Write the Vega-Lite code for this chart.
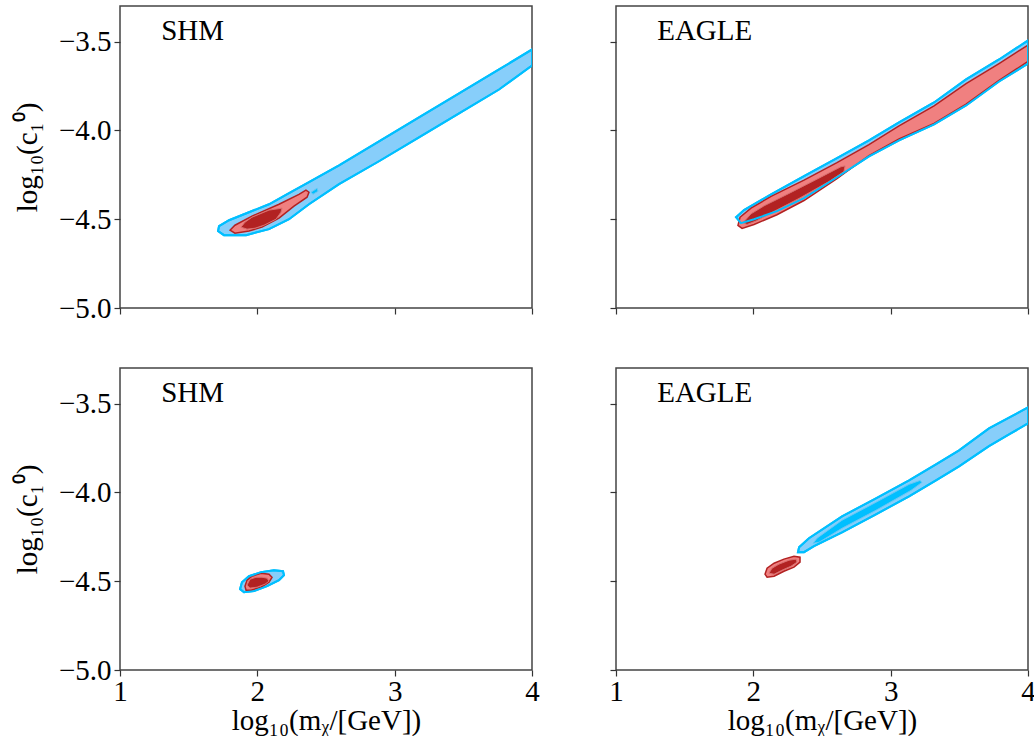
{
"$schema":"https://vega.github.io/schema/vega-lite/v6.json",
"autosize":{"type":"pad"},
"padding":{"left":12,"top":5,"right":5,"bottom":0},
"background":"white",
"datasets":{
"polys":[
{"p":"TL","l":"txt","o":0,"label":"SHM"},{"p":"TR","l":"txt","o":0,"label":"EAGLE"},{"p":"BL","l":"txt","o":0,"label":"SHM"},{"p":"BR","l":"txt","o":0,"label":"EAGLE"},
{"p":"TL","l":"b2","o":0,"x":1.721,"y":-4.539},{"p":"TL","l":"b2","o":1,"x":1.794,"y":-4.506},{"p":"TL","l":"b2","o":2,"x":1.939,"y":-4.461},{"p":"TL","l":"b2","o":3,"x":2.085,"y":-4.416},{"p":"TL","l":"b2","o":4,"x":2.231,"y":-4.354},{"p":"TL","l":"b2","o":5,"x":2.376,"y":-4.292},{"p":"TL","l":"b2","o":6,"x":2.595,"y":-4.197},{"p":"TL","l":"b2","o":7,"x":2.886,"y":-4.062},{"p":"TL","l":"b2","o":8,"x":3.177,"y":-3.927},{"p":"TL","l":"b2","o":9,"x":3.469,"y":-3.792},{"p":"TL","l":"b2","o":10,"x":3.76,"y":-3.657},{"p":"TL","l":"b2","o":11,"x":4.0,"y":-3.545},{"p":"TL","l":"b2","o":12,"x":4.0,"y":-3.635},{"p":"TL","l":"b2","o":13,"x":3.76,"y":-3.77},{"p":"TL","l":"b2","o":14,"x":3.469,"y":-3.904},{"p":"TL","l":"b2","o":15,"x":3.177,"y":-4.039},{"p":"TL","l":"b2","o":16,"x":2.886,"y":-4.174},{"p":"TL","l":"b2","o":17,"x":2.595,"y":-4.303},{"p":"TL","l":"b2","o":18,"x":2.376,"y":-4.416},{"p":"TL","l":"b2","o":19,"x":2.231,"y":-4.5},{"p":"TL","l":"b2","o":20,"x":2.085,"y":-4.556},{"p":"TL","l":"b2","o":21,"x":1.918,"y":-4.59},{"p":"TL","l":"b2","o":22,"x":1.757,"y":-4.59},{"p":"TL","l":"b2","o":23,"x":1.714,"y":-4.567},
{"p":"TL","l":"b1","o":0,"x":2.391,"y":-4.348},{"p":"TL","l":"b1","o":1,"x":2.435,"y":-4.326},{"p":"TL","l":"b1","o":2,"x":2.442,"y":-4.343},{"p":"TL","l":"b1","o":3,"x":2.405,"y":-4.36},
{"p":"TL","l":"r2","o":0,"x":1.801,"y":-4.562},{"p":"TL","l":"r2","o":1,"x":1.837,"y":-4.534},{"p":"TL","l":"r2","o":2,"x":1.961,"y":-4.483},{"p":"TL","l":"r2","o":3,"x":2.158,"y":-4.416},{"p":"TL","l":"r2","o":4,"x":2.303,"y":-4.36},{"p":"TL","l":"r2","o":5,"x":2.354,"y":-4.337},{"p":"TL","l":"r2","o":6,"x":2.376,"y":-4.348},{"p":"TL","l":"r2","o":7,"x":2.362,"y":-4.376},{"p":"TL","l":"r2","o":8,"x":2.267,"y":-4.427},{"p":"TL","l":"r2","o":9,"x":2.158,"y":-4.494},{"p":"TL","l":"r2","o":10,"x":2.034,"y":-4.545},{"p":"TL","l":"r2","o":11,"x":1.939,"y":-4.567},{"p":"TL","l":"r2","o":12,"x":1.837,"y":-4.579},
{"p":"TL","l":"r1","o":0,"x":1.881,"y":-4.545},{"p":"TL","l":"r1","o":1,"x":1.91,"y":-4.517},{"p":"TL","l":"r1","o":2,"x":1.961,"y":-4.489},{"p":"TL","l":"r1","o":3,"x":2.085,"y":-4.449},{"p":"TL","l":"r1","o":4,"x":2.18,"y":-4.438},{"p":"TL","l":"r1","o":5,"x":2.172,"y":-4.461},{"p":"TL","l":"r1","o":6,"x":2.136,"y":-4.5},{"p":"TL","l":"r1","o":7,"x":2.049,"y":-4.534},{"p":"TL","l":"r1","o":8,"x":1.983,"y":-4.551},{"p":"TL","l":"r1","o":9,"x":1.925,"y":-4.556},
{"p":"TR","l":"b2","o":0,"x":1.874,"y":-4.489},{"p":"TR","l":"b2","o":1,"x":1.932,"y":-4.449},{"p":"TR","l":"b2","o":2,"x":2.129,"y":-4.36},{"p":"TR","l":"b2","o":3,"x":2.369,"y":-4.258},{"p":"TR","l":"b2","o":4,"x":2.609,"y":-4.157},{"p":"TR","l":"b2","o":5,"x":2.842,"y":-4.056},{"p":"TR","l":"b2","o":6,"x":3.061,"y":-3.955},{"p":"TR","l":"b2","o":7,"x":3.316,"y":-3.843},{"p":"TR","l":"b2","o":8,"x":3.549,"y":-3.713},{"p":"TR","l":"b2","o":9,"x":3.789,"y":-3.601},{"p":"TR","l":"b2","o":10,"x":4.0,"y":-3.494},{"p":"TR","l":"b2","o":11,"x":4.0,"y":-3.624},{"p":"TR","l":"b2","o":12,"x":3.789,"y":-3.725},{"p":"TR","l":"b2","o":13,"x":3.549,"y":-3.86},{"p":"TR","l":"b2","o":14,"x":3.316,"y":-3.966},{"p":"TR","l":"b2","o":15,"x":3.061,"y":-4.056},{"p":"TR","l":"b2","o":16,"x":2.842,"y":-4.146},{"p":"TR","l":"b2","o":17,"x":2.609,"y":-4.264},{"p":"TR","l":"b2","o":18,"x":2.369,"y":-4.382},{"p":"TR","l":"b2","o":19,"x":2.172,"y":-4.455},{"p":"TR","l":"b2","o":20,"x":2.005,"y":-4.5},{"p":"TR","l":"b2","o":21,"x":1.91,"y":-4.522},
{"p":"TR","l":"r2","o":0,"x":1.903,"y":-4.489},{"p":"TR","l":"r2","o":1,"x":1.983,"y":-4.438},{"p":"TR","l":"r2","o":2,"x":2.129,"y":-4.372},{"p":"TR","l":"r2","o":3,"x":2.369,"y":-4.28},{"p":"TR","l":"r2","o":4,"x":2.609,"y":-4.182},{"p":"TR","l":"r2","o":5,"x":2.842,"y":-4.08},{"p":"TR","l":"r2","o":6,"x":3.061,"y":-3.975},{"p":"TR","l":"r2","o":7,"x":3.316,"y":-3.862},{"p":"TR","l":"r2","o":8,"x":3.549,"y":-3.737},{"p":"TR","l":"r2","o":9,"x":3.789,"y":-3.624},{"p":"TR","l":"r2","o":10,"x":4.0,"y":-3.52},{"p":"TR","l":"r2","o":11,"x":4.0,"y":-3.612},{"p":"TR","l":"r2","o":12,"x":3.789,"y":-3.719},{"p":"TR","l":"r2","o":13,"x":3.549,"y":-3.852},{"p":"TR","l":"r2","o":14,"x":3.316,"y":-3.961},{"p":"TR","l":"r2","o":15,"x":3.061,"y":-4.048},{"p":"TR","l":"r2","o":16,"x":2.842,"y":-4.142},{"p":"TR","l":"r2","o":17,"x":2.733,"y":-4.202},{"p":"TR","l":"r2","o":18,"x":2.609,"y":-4.272},{"p":"TR","l":"r2","o":19,"x":2.369,"y":-4.395},{"p":"TR","l":"r2","o":20,"x":2.172,"y":-4.475},{"p":"TR","l":"r2","o":21,"x":2.005,"y":-4.53},{"p":"TR","l":"r2","o":22,"x":1.918,"y":-4.552},{"p":"TR","l":"r2","o":23,"x":1.888,"y":-4.535},
{"p":"TR","l":"r1","o":0,"x":1.925,"y":-4.52},{"p":"TR","l":"r1","o":1,"x":1.983,"y":-4.47},{"p":"TR","l":"r1","o":2,"x":2.078,"y":-4.425},{"p":"TR","l":"r1","o":3,"x":2.26,"y":-4.355},{"p":"TR","l":"r1","o":4,"x":2.442,"y":-4.283},{"p":"TR","l":"r1","o":5,"x":2.638,"y":-4.205},{"p":"TR","l":"r1","o":6,"x":2.668,"y":-4.2},{"p":"TR","l":"r1","o":7,"x":2.66,"y":-4.232},{"p":"TR","l":"r1","o":8,"x":2.551,"y":-4.288},{"p":"TR","l":"r1","o":9,"x":2.333,"y":-4.383},{"p":"TR","l":"r1","o":10,"x":2.151,"y":-4.456},{"p":"TR","l":"r1","o":11,"x":2.02,"y":-4.51},{"p":"TR","l":"r1","o":12,"x":1.954,"y":-4.53},
{"p":"BL","l":"b2","o":0,"x":1.874,"y":-4.545},{"p":"BL","l":"b2","o":1,"x":1.888,"y":-4.506},{"p":"BL","l":"b2","o":2,"x":1.939,"y":-4.472},{"p":"BL","l":"b2","o":3,"x":2.027,"y":-4.449},{"p":"BL","l":"b2","o":4,"x":2.121,"y":-4.438},{"p":"BL","l":"b2","o":5,"x":2.187,"y":-4.444},{"p":"BL","l":"b2","o":6,"x":2.194,"y":-4.466},{"p":"BL","l":"b2","o":7,"x":2.158,"y":-4.494},{"p":"BL","l":"b2","o":8,"x":2.071,"y":-4.528},{"p":"BL","l":"b2","o":9,"x":1.976,"y":-4.556},{"p":"BL","l":"b2","o":10,"x":1.903,"y":-4.562},
{"p":"BL","l":"r2","o":0,"x":1.91,"y":-4.528},{"p":"BL","l":"r2","o":1,"x":1.925,"y":-4.494},{"p":"BL","l":"r2","o":2,"x":1.961,"y":-4.472},{"p":"BL","l":"r2","o":3,"x":2.027,"y":-4.455},{"p":"BL","l":"r2","o":4,"x":2.085,"y":-4.461},{"p":"BL","l":"r2","o":5,"x":2.107,"y":-4.478},{"p":"BL","l":"r2","o":6,"x":2.085,"y":-4.506},{"p":"BL","l":"r2","o":7,"x":2.027,"y":-4.534},{"p":"BL","l":"r2","o":8,"x":1.954,"y":-4.551},{"p":"BL","l":"r2","o":9,"x":1.918,"y":-4.551},
{"p":"BL","l":"r1","o":0,"x":1.925,"y":-4.522},{"p":"BL","l":"r1","o":1,"x":1.947,"y":-4.489},{"p":"BL","l":"r1","o":2,"x":1.99,"y":-4.478},{"p":"BL","l":"r1","o":3,"x":2.034,"y":-4.478},{"p":"BL","l":"r1","o":4,"x":2.071,"y":-4.483},{"p":"BL","l":"r1","o":5,"x":2.085,"y":-4.5},{"p":"BL","l":"r1","o":6,"x":2.056,"y":-4.517},{"p":"BL","l":"r1","o":7,"x":1.998,"y":-4.534},{"p":"BL","l":"r1","o":8,"x":1.947,"y":-4.539},
{"p":"BR","l":"b2","o":0,"x":2.333,"y":-4.309},{"p":"BR","l":"b2","o":1,"x":2.405,"y":-4.258},{"p":"BR","l":"b2","o":2,"x":2.646,"y":-4.135},{"p":"BR","l":"b2","o":3,"x":2.893,"y":-4.034},{"p":"BR","l":"b2","o":4,"x":3.134,"y":-3.933},{"p":"BR","l":"b2","o":5,"x":3.33,"y":-3.843},{"p":"BR","l":"b2","o":6,"x":3.498,"y":-3.764},{"p":"BR","l":"b2","o":7,"x":3.716,"y":-3.64},{"p":"BR","l":"b2","o":8,"x":3.862,"y":-3.579},{"p":"BR","l":"b2","o":9,"x":4.0,"y":-3.522},{"p":"BR","l":"b2","o":10,"x":4.0,"y":-3.612},{"p":"BR","l":"b2","o":11,"x":3.862,"y":-3.674},{"p":"BR","l":"b2","o":12,"x":3.716,"y":-3.74},{"p":"BR","l":"b2","o":13,"x":3.498,"y":-3.854},{"p":"BR","l":"b2","o":14,"x":3.33,"y":-3.933},{"p":"BR","l":"b2","o":15,"x":3.134,"y":-4.022},{"p":"BR","l":"b2","o":16,"x":2.893,"y":-4.124},{"p":"BR","l":"b2","o":17,"x":2.646,"y":-4.225},{"p":"BR","l":"b2","o":18,"x":2.442,"y":-4.303},{"p":"BR","l":"b2","o":19,"x":2.369,"y":-4.337},{"p":"BR","l":"b2","o":20,"x":2.325,"y":-4.337},
{"p":"BR","l":"b1","o":0,"x":2.435,"y":-4.287},{"p":"BR","l":"b1","o":1,"x":2.464,"y":-4.258},{"p":"BR","l":"b1","o":2,"x":2.646,"y":-4.157},{"p":"BR","l":"b1","o":3,"x":2.893,"y":-4.056},{"p":"BR","l":"b1","o":4,"x":3.134,"y":-3.955},{"p":"BR","l":"b1","o":5,"x":3.214,"y":-3.933},{"p":"BR","l":"b1","o":6,"x":3.228,"y":-3.944},{"p":"BR","l":"b1","o":7,"x":3.148,"y":-3.989},{"p":"BR","l":"b1","o":8,"x":2.893,"y":-4.101},{"p":"BR","l":"b1","o":9,"x":2.646,"y":-4.202},{"p":"BR","l":"b1","o":10,"x":2.478,"y":-4.281},
{"p":"BR","l":"r2","o":0,"x":2.085,"y":-4.461},{"p":"BR","l":"r2","o":1,"x":2.1,"y":-4.427},{"p":"BR","l":"r2","o":2,"x":2.151,"y":-4.399},{"p":"BR","l":"r2","o":3,"x":2.223,"y":-4.376},{"p":"BR","l":"r2","o":4,"x":2.296,"y":-4.36},{"p":"BR","l":"r2","o":5,"x":2.34,"y":-4.365},{"p":"BR","l":"r2","o":6,"x":2.34,"y":-4.393},{"p":"BR","l":"r2","o":7,"x":2.296,"y":-4.421},{"p":"BR","l":"r2","o":8,"x":2.223,"y":-4.444},{"p":"BR","l":"r2","o":9,"x":2.151,"y":-4.472},{"p":"BR","l":"r2","o":10,"x":2.1,"y":-4.478},
{"p":"BR","l":"r1","o":0,"x":2.114,"y":-4.455},{"p":"BR","l":"r1","o":1,"x":2.136,"y":-4.427},{"p":"BR","l":"r1","o":2,"x":2.187,"y":-4.404},{"p":"BR","l":"r1","o":3,"x":2.26,"y":-4.382},{"p":"BR","l":"r1","o":4,"x":2.311,"y":-4.376},{"p":"BR","l":"r1","o":5,"x":2.318,"y":-4.393},{"p":"BR","l":"r1","o":6,"x":2.274,"y":-4.416},{"p":"BR","l":"r1","o":7,"x":2.209,"y":-4.438},{"p":"BR","l":"r1","o":8,"x":2.151,"y":-4.461}
]},
"columns":2,
"spacing":{"row":60,"column":84},
"bounds":"flush",
"concat":[
{"width":412,"height":302,"data":{"name":"polys"},
 "layer":[
  {"transform":[{"filter":"datum.p=='TL'&&datum.l=='b2'"}],"mark":{"type":"line","interpolate":"linear-closed","fill":"#87CEFA","stroke":"#00BFFF","strokeWidth":2,"clip":true},
   "encoding":{"x":{"field":"x","type":"quantitative","scale":{"domain":[1,4],"nice":false,"zero":false},"axis":{"values":[1,2,3,4],"labels":false,"title":null}},
    "y":{"field":"y","type":"quantitative","scale":{"domain":[-5,-3.3],"nice":false,"zero":false},"axis":{"values":[-5,-4.5,-4,-3.5],"format":".1f","title":"log₁₀(c₁⁰)"}},"order":{"field":"o","type":"quantitative"}}},
  {"transform":[{"filter":"datum.p=='TL'&&datum.l=='b1'"}],"mark":{"type":"line","interpolate":"linear-closed","fill":"#00BFFF","stroke":"#66C8F5","strokeWidth":1,"clip":true},"encoding":{"x":{"field":"x","type":"quantitative"},"y":{"field":"y","type":"quantitative"},"order":{"field":"o","type":"quantitative"}}},
  {"transform":[{"filter":"datum.p=='TL'&&datum.l=='r2'"}],"mark":{"type":"line","interpolate":"linear-closed","fill":"#F08080","stroke":"#B22222","strokeWidth":1.5,"clip":true},"encoding":{"x":{"field":"x","type":"quantitative"},"y":{"field":"y","type":"quantitative"},"order":{"field":"o","type":"quantitative"}}},
  {"transform":[{"filter":"datum.p=='TL'&&datum.l=='r1'"}],"mark":{"type":"line","interpolate":"linear-closed","fill":"#B22222","stroke":"#D87070","strokeWidth":1,"clip":true},"encoding":{"x":{"field":"x","type":"quantitative"},"y":{"field":"y","type":"quantitative"},"order":{"field":"o","type":"quantitative"}}},
  {"transform":[{"filter":"datum.p=='TL'&&datum.l=='b2'"}],"mark":{"type":"line","interpolate":"linear-closed","stroke":"#00BFFF","strokeWidth":2,"clip":true},"encoding":{"x":{"field":"x","type":"quantitative"},"y":{"field":"y","type":"quantitative"},"order":{"field":"o","type":"quantitative"}}},
  {"transform":[{"filter":"datum.p=='TL'&&datum.l=='txt'"}],"mark":{"type":"text","align":"left","baseline":"alphabetic","font":"Liberation Serif","fontSize":29,"fill":"#000"},"encoding":{"x":{"datum":1.3,"type":"quantitative"},"y":{"datum":-3.49,"type":"quantitative"},"text":{"field":"label","type":"nominal"}}}
 ]},
{"width":412,"height":302,"data":{"name":"polys"},
 "layer":[
  {"transform":[{"filter":"datum.p=='TR'&&datum.l=='b2'"}],"mark":{"type":"line","interpolate":"linear-closed","fill":"#87CEFA","stroke":"#00BFFF","strokeWidth":2,"clip":true},
   "encoding":{"x":{"field":"x","type":"quantitative","scale":{"domain":[1,4],"nice":false,"zero":false},"axis":{"values":[1,2,3,4],"labels":false,"title":null}},
    "y":{"field":"y","type":"quantitative","scale":{"domain":[-5,-3.3],"nice":false,"zero":false},"axis":{"values":[-5,-4.5,-4,-3.5],"labels":false,"title":null}},"order":{"field":"o","type":"quantitative"}}},
  {"transform":[{"filter":"datum.p=='TR'&&datum.l=='r2'"}],"mark":{"type":"line","interpolate":"linear-closed","fill":"#F08080","stroke":"#B22222","strokeWidth":1.5,"clip":true},"encoding":{"x":{"field":"x","type":"quantitative"},"y":{"field":"y","type":"quantitative"},"order":{"field":"o","type":"quantitative"}}},
  {"transform":[{"filter":"datum.p=='TR'&&datum.l=='r1'"}],"mark":{"type":"line","interpolate":"linear-closed","fill":"#B22222","stroke":"#D87070","strokeWidth":1,"clip":true},"encoding":{"x":{"field":"x","type":"quantitative"},"y":{"field":"y","type":"quantitative"},"order":{"field":"o","type":"quantitative"}}},
  {"transform":[{"filter":"datum.p=='TR'&&datum.l=='b2'"}],"mark":{"type":"line","interpolate":"linear-closed","stroke":"#00BFFF","strokeWidth":2,"clip":true},"encoding":{"x":{"field":"x","type":"quantitative"},"y":{"field":"y","type":"quantitative"},"order":{"field":"o","type":"quantitative"}}},
  {"transform":[{"filter":"datum.p=='TR'&&datum.l=='txt'"}],"mark":{"type":"text","align":"left","baseline":"alphabetic","font":"Liberation Serif","fontSize":29,"fill":"#000"},"encoding":{"x":{"datum":1.3,"type":"quantitative"},"y":{"datum":-3.49,"type":"quantitative"},"text":{"field":"label","type":"nominal"}}}
 ]},
{"width":412,"height":302,"data":{"name":"polys"},
 "layer":[
  {"transform":[{"filter":"datum.p=='BL'&&datum.l=='b2'"}],"mark":{"type":"line","interpolate":"linear-closed","fill":"#87CEFA","stroke":"#00BFFF","strokeWidth":2,"clip":true},
   "encoding":{"x":{"field":"x","type":"quantitative","scale":{"domain":[1,4],"nice":false,"zero":false},"axis":{"values":[1,2,3,4],"format":"d","title":"log₁₀(mᵪ/[GeV])"}},
    "y":{"field":"y","type":"quantitative","scale":{"domain":[-5,-3.3],"nice":false,"zero":false},"axis":{"values":[-5,-4.5,-4,-3.5],"format":".1f","title":"log₁₀(c₁⁰)"}},"order":{"field":"o","type":"quantitative"}}},
  {"transform":[{"filter":"datum.p=='BL'&&datum.l=='r2'"}],"mark":{"type":"line","interpolate":"linear-closed","fill":"#F08080","stroke":"#B22222","strokeWidth":1.5,"clip":true},"encoding":{"x":{"field":"x","type":"quantitative"},"y":{"field":"y","type":"quantitative"},"order":{"field":"o","type":"quantitative"}}},
  {"transform":[{"filter":"datum.p=='BL'&&datum.l=='r1'"}],"mark":{"type":"line","interpolate":"linear-closed","fill":"#B22222","stroke":"#D87070","strokeWidth":1,"clip":true},"encoding":{"x":{"field":"x","type":"quantitative"},"y":{"field":"y","type":"quantitative"},"order":{"field":"o","type":"quantitative"}}},
  {"transform":[{"filter":"datum.p=='BL'&&datum.l=='b2'"}],"mark":{"type":"line","interpolate":"linear-closed","stroke":"#00BFFF","strokeWidth":2,"clip":true},"encoding":{"x":{"field":"x","type":"quantitative"},"y":{"field":"y","type":"quantitative"},"order":{"field":"o","type":"quantitative"}}},
  {"transform":[{"filter":"datum.p=='BL'&&datum.l=='txt'"}],"mark":{"type":"text","align":"left","baseline":"alphabetic","font":"Liberation Serif","fontSize":29,"fill":"#000"},"encoding":{"x":{"datum":1.3,"type":"quantitative"},"y":{"datum":-3.49,"type":"quantitative"},"text":{"field":"label","type":"nominal"}}}
 ]},
{"width":412,"height":302,"data":{"name":"polys"},
 "layer":[
  {"transform":[{"filter":"datum.p=='BR'&&datum.l=='b2'"}],"mark":{"type":"line","interpolate":"linear-closed","fill":"#87CEFA","stroke":"#00BFFF","strokeWidth":2,"clip":true},
   "encoding":{"x":{"field":"x","type":"quantitative","scale":{"domain":[1,4],"nice":false,"zero":false},"axis":{"values":[1,2,3,4],"format":"d","title":"log₁₀(mᵪ/[GeV])"}},
    "y":{"field":"y","type":"quantitative","scale":{"domain":[-5,-3.3],"nice":false,"zero":false},"axis":{"values":[-5,-4.5,-4,-3.5],"labels":false,"title":null}},"order":{"field":"o","type":"quantitative"}}},
  {"transform":[{"filter":"datum.p=='BR'&&datum.l=='b1'"}],"mark":{"type":"line","interpolate":"linear-closed","fill":"#00BFFF","stroke":"#66C8F5","strokeWidth":1,"clip":true},"encoding":{"x":{"field":"x","type":"quantitative"},"y":{"field":"y","type":"quantitative"},"order":{"field":"o","type":"quantitative"}}},
  {"transform":[{"filter":"datum.p=='BR'&&datum.l=='r2'"}],"mark":{"type":"line","interpolate":"linear-closed","fill":"#F08080","stroke":"#B22222","strokeWidth":1.5,"clip":true},"encoding":{"x":{"field":"x","type":"quantitative"},"y":{"field":"y","type":"quantitative"},"order":{"field":"o","type":"quantitative"}}},
  {"transform":[{"filter":"datum.p=='BR'&&datum.l=='r1'"}],"mark":{"type":"line","interpolate":"linear-closed","fill":"#B22222","stroke":"#D87070","strokeWidth":1,"clip":true},"encoding":{"x":{"field":"x","type":"quantitative"},"y":{"field":"y","type":"quantitative"},"order":{"field":"o","type":"quantitative"}}},
  {"transform":[{"filter":"datum.p=='BR'&&datum.l=='b2'"}],"mark":{"type":"line","interpolate":"linear-closed","stroke":"#00BFFF","strokeWidth":2,"clip":true},"encoding":{"x":{"field":"x","type":"quantitative"},"y":{"field":"y","type":"quantitative"},"order":{"field":"o","type":"quantitative"}}},
  {"transform":[{"filter":"datum.p=='BR'&&datum.l=='txt'"}],"mark":{"type":"text","align":"left","baseline":"alphabetic","font":"Liberation Serif","fontSize":29,"fill":"#000"},"encoding":{"x":{"datum":1.3,"type":"quantitative"},"y":{"datum":-3.49,"type":"quantitative"},"text":{"field":"label","type":"nominal"}}}
 ]}
],
"config":{
 "view":{"stroke":"#444","strokeWidth":1.5},
 "axis":{"labelFont":"Liberation Serif","titleFont":"Liberation Serif","labelFontSize":29,"titleFontSize":29,"titleFontWeight":"normal","labelColor":"#000","titleColor":"#000","tickColor":"#333","tickSize":6,"tickWidth":1.2,"domain":false,"grid":false,"labelPadding":3,"titlePadding":16,"labelOverlap":false,"labelFlush":false,"labelBound":false},
 "axisX":{"labelPadding":1,"titlePadding":0}
}
}
